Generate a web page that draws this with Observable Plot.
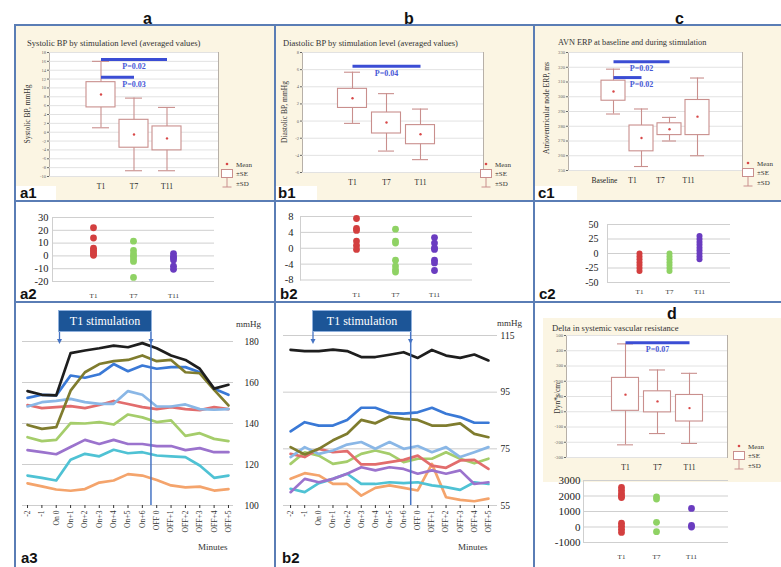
<!DOCTYPE html>
<html><head><meta charset="utf-8">
<script src="https://cdn.jsdelivr.net/npm/d3@7"></script>
<script src="https://cdn.jsdelivr.net/npm/@observablehq/plot@0.6"></script>
<style>
body{margin:0;background:#fff;}
#root{position:relative;width:781px;height:567px;overflow:hidden;background:#fff;font-family:"Liberation Serif",serif;}
.bl{position:absolute;background:#5a7db5;}
.beige{position:absolute;background:#fbf5e3;}
.plab{position:absolute;font-family:"Liberation Sans",Arial,sans-serif;font-weight:bold;line-height:1;color:#111;white-space:nowrap;}
.wbox{position:absolute;background:#fff;}
.ttl{position:absolute;color:#333;white-space:nowrap;line-height:1;}
.ylab{position:absolute;color:#333;white-space:nowrap;line-height:1;transform:translate(-50%,-50%) rotate(-90deg);}
.txt{position:absolute;color:#333;white-space:nowrap;line-height:1;}
.stim{position:absolute;background:#1c5597;border:1px solid #8fb0dc;color:#fff;font-size:12px;display:flex;align-items:center;justify-content:center;box-sizing:border-box;}
</style></head><body><div id="root"></div>
<script>
// ---------- DATA ----------
const cats3 = ["T1", "T7", "T11"];
const erpCats = ["Baseline", "T1", "T7", "T11"];

// a1: systolic BP (mean, ±SE, ±SD)
const sysMean = [8.5, -0.5, -1.4];
const sysSeLo = [5.6, -3.5, -4.1];
const sysSeHi = [11.3, 2.8, 1.3];
const sysSdLo = [1.0, -8.7, -8.7];
const sysSdHi = [16.0, 7.7, 5.6];
const sysTicks = [-10, -8, -6, -4, -2, 0, 2, 4, 6, 8, 10, 12, 14, 16, 18];
const sysPFrom = ["T1", "T1"], sysPTo = ["T11", "T7"], sysPY = [16.4, 12.4];
const sysPText = ["P=0.02", "P=0.03"], sysPAt = ["T7", "T7"];

// b1: diastolic BP
const diaMean = [2.67, -0.16, -1.53];
const diaSeLo = [1.53, -1.45, -2.7];
const diaSeHi = [3.76, 1.0, -0.47];
const diaSdLo = [-0.27, -3.5, -4.5];
const diaSdHi = [5.7, 3.2, 1.4];
const diaTicks = [-6, -4, -2, 0, 2, 4, 6, 8];
const diaPFrom = ["T1"], diaPTo = ["T11"], diaPY = [6.4], diaPText = ["P=0.04"], diaPAt = ["T7"];

// c1: AVN ERP
const erpMean = [303.6, 272, 278, 286.5];
const erpSeLo = [297.3, 263, 274, 274];
const erpSeHi = [310.9, 280.5, 282, 297.8];
const erpSdLo = [288.3, 252.7, 270, 260];
const erpSdHi = [318.7, 291.7, 286, 312.7];
const erpTicks = [250, 260, 270, 280, 290, 300, 310, 320, 330];
const erpPFrom = ["Baseline", "Baseline"], erpPTo = ["T7", "T1"], erpPY = [323.7, 313];
const erpPText = ["P=0.02", "P=0.02"], erpPAt = ["T1", "T1"];

// d: delta SVR
const svrMean = [112, 68, 24];
const svrSeLo = [6, -4, -64];
const svrSeHi = [222, 134, 110];
const svrSdLo = [-217, -143, -208];
const svrSdHi = [445, 274, 252];
const svrTicks = [-300, -200, -100, 0, 100, 200, 300, 400, 500];
const svrPFrom = ["T1"], svrPTo = ["T11"], svrPY = [452], svrPText = ["P=0.07"], svrPAt = ["T7"];

// row 2 individual values
const a2T1 = [22, 14, 6, 4.5, 3, 1.5, 0.5];
const a2T7 = [11.5, 4.3, 1.6, -0.3, -2.4, -4.3, -16.8];
const a2T11 = [1.8, -0.5, -1.5, -3.2, -8, -10.5];
const a2Ticks = [-20, -10, 0, 10, 20, 30];

const b2T1 = [7.5, 5, 4.5, 1.8, 0.7, -0.3];
const b2T7 = [4.8, 1.8, 1.3, -3, -4.5, -5.4, -6];
const b2T11 = [2.7, 1.3, 0.1, -0.3, -3, -3.7, -5.6];
const b2Ticks = [-8, -4, 0, 4, 8];

const c2T1 = [0, -5, -10, -15, -20, -25, -30];
const c2T7 = [0, -5, -10, -15, -20, -25, -30];
const c2T11 = [30, 25, 20, 15, 10, 5, 0, -5, -10];
const c2Ticks = [-50, -25, 0, 25, 50];

const d2T1 = [2550, 2350, 2150, 2000, 1900, 250, 50, -150, -350];
const d2T7 = [1950, 1800, 300, -300];
const d2T11 = [1200, 100, 0];
const d2Ticks = [-1000, 0, 1000, 2000, 3000];

// row 3 time courses
const minuteLabels = ["-2", "-1", "On 0", "On+1", "On+2", "On+3", "On+4", "On+5", "On+6",
  "OFF 0", "OFF+1", "OFF+2", "OFF+3", "OFF+4", "OFF+5"];
const seriesNames = ["Subject 1", "Subject 2", "Subject 3", "Subject 4", "Subject 5", "Subject 6", "Subject 7", "Subject 8", "Subject 9"];
const seriesColors = ["#f4a46c", "#4fc2d4", "#9b73cd", "#a5cd6b", "#e26d6d", "#8ab7e6", "#3a79d6", "#7f7c2e", "#1e1e1e"];

const sysOrange = [110.8, 109.3, 107.8, 107.2, 108, 111.2, 112.2, 115.3, 114.6, 112.4, 109.8, 108.8, 109.2, 107.3, 108];
const sysTeal = [114.6, 113.5, 112.2, 122.3, 125.2, 124, 127.2, 125.5, 126, 124.4, 124, 123.6, 119.5, 113.5, 114.6];
const sysPurple = [127, 126, 125, 128.5, 132, 130, 132, 130, 130, 129, 129, 127, 128, 126, 126];
const sysGreen = [133.3, 131.4, 132, 140.2, 140, 140.7, 139.5, 144.4, 143, 140.7, 141.5, 134, 135.3, 132.5, 131.4];
const sysRed = [149, 147.5, 148, 148.5, 147.5, 149, 151, 149.5, 148, 147, 148, 147, 146.5, 148, 147];
const sysLightBlue = [148.3, 150.4, 151, 152, 150.4, 149.6, 149.6, 155.8, 154, 148.3, 148.3, 149.3, 147, 146.7, 147];
const sysBlue = [152.5, 154, 153.7, 163.4, 162.3, 164, 169, 165.5, 168.3, 166.7, 167.5, 167.5, 165, 157, 154];
const sysOlive = [139.3, 137.4, 138.2, 156, 165, 169, 170.4, 171, 173.2, 170.4, 171, 165, 164.5, 156.4, 148.8];
const sysBlack = [155.8, 154, 153.7, 174.3, 175.6, 176.7, 178, 177.2, 179.2, 176.7, 173.2, 171, 166.7, 157, 158.9];

const diaOrange = [64.4, 66.4, 65.6, 62.6, 62.6, 58.5, 61.2, 62.1, 61.2, 60.3, 69.7, 57.9, 57, 56.5, 57.4];
const diaTeal = [60.9, 59.7, 62.9, 64.4, 66.2, 62.6, 62.6, 63.2, 62.9, 63.2, 62.1, 61.5, 60.5, 63.2, 62.6];
const diaPurple = [59.7, 64.4, 63.2, 64.4, 66.2, 68.5, 67.4, 68.5, 67.9, 66.2, 67.4, 66.2, 67.4, 62.6, 63.2];
const diaGreen = [69.7, 73.8, 72.6, 69.7, 70.5, 73.2, 74.4, 73.2, 70.3, 71.5, 71.5, 73.8, 71.5, 69.9, 71.5];
const diaRed = [73.2, 72.1, 75, 73.8, 74.2, 69.5, 69.5, 70.3, 71.1, 72.6, 69.1, 68.3, 70.9, 71.1, 67.9];
const diaLightBlue = [72.1, 75.6, 73.2, 74.4, 76.5, 77.4, 75, 77.4, 75, 76, 73.8, 75.6, 72.1, 73.8, 75.6];
const diaBlue = [81.2, 84.4, 83.2, 83.2, 85.2, 89.5, 89.5, 87.6, 87.4, 87.9, 89.5, 87.4, 86.2, 84.2, 84.2];
const diaOlive = [75.6, 73, 75, 78, 80.3, 85.2, 84, 86.4, 85.6, 85.2, 83.2, 83.2, 84, 80.3, 79.1];
const diaBlack = [109.9, 109.5, 109.5, 110, 109.5, 107.4, 107.4, 108.2, 109.1, 107.1, 109.9, 107.9, 107.1, 108.3, 106.2];

const sysLineTicks = [100, 120, 140, 160, 180];
const diaLineTicks = [55, 75, 95, 115];
const a3StimOff = 8.6;
const b3StimOff = 8.5;

// ---------- HELPERS ----------
const root = document.getElementById("root");
const SERIF = "Liberation Serif";
const BOX = "#c98f8d";
const plain = d => String(d);

function place(el, left, top) {
  el.style.position = "absolute";
  el.style.left = left + "px";
  el.style.top = top + "px";
  el.style.background = "transparent";
  el.style.overflow = "visible";
  el.style.maxWidth = "none";
  root.appendChild(el);
}
function div(cls, left, top, html, extra) {
  const d = document.createElement("div");
  d.className = cls;
  d.style.left = left + "px";
  d.style.top = top + "px";
  if (extra) Object.assign(d.style, extra);
  d.innerHTML = html;
  root.appendChild(d);
  return d;
}

function boxChart(o) {
  const rows = o.cats.map((c, i) => ({c, mean: o.mean[i], seLo: o.seLo[i], seHi: o.seHi[i], sdLo: o.sdLo[i], sdHi: o.sdHi[i]}));
  const pr = o.pFrom.map((f, i) => ({f, t: o.pTo[i], y: o.pY[i], label: o.pText[i], at: o.pAt[i]}));
  return Plot.plot({
    width: o.w, height: o.h, marginLeft: o.ml, marginRight: o.mr, marginTop: o.mt, marginBottom: o.mb,
    style: {fontFamily: SERIF, background: "transparent"},
    x: {type: "band", domain: o.cats, paddingInner: 0, paddingOuter: o.po, align: o.align},
    y: {domain: o.yDomain},
    marks: [
      Plot.frame({fill: "white", stroke: "#b7b0a8"}),
      Plot.gridY({ticks: o.yTicks, stroke: "#e2e2e2", strokeOpacity: 1}),
      Plot.axisY({ticks: o.yTicks, tickFormat: plain, tickSize: 2, tickPadding: 1.5, fontSize: 4.6, label: null, color: "#666"}),
      Plot.axisX({tickSize: 0, tickPadding: 7, fontSize: 7.5, label: null, color: "#222", dx: o.xdx || 0}),
      Plot.ruleX(rows, {x: "c", y1: "sdLo", y2: "sdHi", stroke: BOX, strokeWidth: 1.1}),
      Plot.tickY(rows, {x: "c", y: "sdLo", stroke: BOX, strokeWidth: 1.1, insetLeft: o.cap, insetRight: o.cap}),
      Plot.tickY(rows, {x: "c", y: "sdHi", stroke: BOX, strokeWidth: 1.1, insetLeft: o.cap, insetRight: o.cap}),
      Plot.barY(rows, {x: "c", y1: "seLo", y2: "seHi", fill: "white", stroke: BOX, strokeWidth: 1.1, insetLeft: o.inset, insetRight: o.inset}),
      Plot.dot(rows, {x: "c", y: "mean", r: 1.2, fill: "#d84848"}),
      Plot.link(pr, {x1: "f", x2: "t", y1: "y", y2: "y", stroke: "#3b4dd4", strokeWidth: 3}),
      Plot.text(pr, {x: "at", y: "y", text: "label", dy: 7, fill: "#4758d6", fontSize: 8, fontWeight: "bold"})
    ]
  });
}

function dotChart(o) {
  const pts = [];
  o.cats.forEach((c, i) => o.vals[i].forEach(v => pts.push({c, v})));
  return Plot.plot({
    width: o.w, height: o.h, marginLeft: o.ml, marginRight: o.mr, marginTop: o.mt, marginBottom: o.mb,
    style: {fontFamily: SERIF, background: "transparent"},
    x: {type: "point", domain: o.cats, padding: o.pad, align: o.align},
    y: {domain: o.yDomain},
    color: {domain: o.cats, range: ["#d33f3f", "#8fd264", "#6a3cc0"]},
    marks: [
      Plot.gridY({ticks: o.yTicks, stroke: "#cfcfcf", strokeOpacity: 1}),
      Plot.frame({anchor: "left", stroke: "#cfcfcf"}),
      Plot.axisY({ticks: o.yTicks, tickFormat: plain, tickSize: 0, tickPadding: o.tp, fontSize: o.fs, label: null, color: "#222"}),
      Plot.axisX({tickSize: 0, tickPadding: o.xtp, fontSize: 7, label: null, color: "#333"}),
      Plot.dot(pts, {x: "c", y: "v", fill: "c", r: o.r})
    ]
  });
}

function lineChart(o) {
  const rows = [];
  o.series.forEach((s, k) => s.forEach((v, i) => rows.push({s: seriesNames[k], i, v})));
  return Plot.plot({
    width: o.w, height: o.h, marginLeft: o.ml, marginRight: o.mr, marginTop: o.mt, marginBottom: o.mb,
    style: {fontFamily: SERIF, background: "transparent"},
    x: {domain: o.xDomain},
    y: {domain: o.yDomain, range: o.yRange},
    color: {type: "ordinal", domain: seriesNames, range: seriesColors},
    marks: [
      Plot.gridY({ticks: o.yTicks, stroke: "#cdcdcd", strokeOpacity: 1}),
      Plot.axisY({anchor: "right", ticks: o.yTicks, tickFormat: plain, tickSize: 0, tickPadding: o.tp, fontSize: 9.5, label: null, color: "#222"}),
      Plot.axisX({ticks: minuteLabels.map((_, i) => i), tickFormat: i => minuteLabels[i], tickRotate: -90,
        tickSize: 3, tickPadding: 2, fontSize: 7.6, label: null, color: "#333"}),
      Plot.line(rows, {x: "i", y: "v", z: "s", stroke: "s", strokeWidth: 2.7}),
      Plot.ruleX([o.stimOff], {stroke: "#4674c4", strokeWidth: 1.5})
    ]
  });
}

function legend(left, top) {
  const s = `<svg width="50" height="34" style="position:absolute;left:${left}px;top:${top}px;overflow:visible" font-family="${SERIF}" font-size="7" fill="#333">
  <circle cx="6" cy="4" r="1.3" fill="#d84848"/>
  <rect x="0.5" y="9.5" width="11" height="8" fill="white" stroke="${BOX}"/>
  <line x1="6" y1="17.5" x2="6" y2="27" stroke="${BOX}"/>
  <line x1="1.5" y1="27" x2="10.5" y2="27" stroke="${BOX}"/>
  <text x="15" y="6.5">Mean</text><text x="15" y="15.5">±SE</text><text x="15" y="25.5">±SD</text></svg>`;
  root.insertAdjacentHTML("beforeend", s);
}

function stim(left, width, arrowLeftX, arrowRightX) {
  div("stim", left, 310, "T1 stimulation", {width: width + "px", height: "22px"});
  const s = `<svg width="781" height="567" style="position:absolute;left:0;top:0;pointer-events:none;overflow:visible">
  <line x1="${arrowLeftX}" y1="332" x2="${arrowLeftX}" y2="340" stroke="#4674c4" stroke-width="1.3"/>
  <path d="M${arrowLeftX - 2.5},339 L${arrowLeftX + 2.5},339 L${arrowLeftX},344 Z" fill="#4674c4"/>
  <path d="M${arrowRightX - 2.5},339 L${arrowRightX + 2.5},339 L${arrowRightX},344 Z" fill="#4674c4"/>
  </svg>`;
  root.insertAdjacentHTML("beforeend", s);
}

// ---------- BACKGROUNDS ----------
div("beige", 16, 26, "", {width: "258px", height: "174px"});
div("beige", 276, 26, "", {width: "257px", height: "174px"});
div("beige", 535, 26, "", {width: "246px", height: "174px"});
div("beige", 543, 318, "", {width: "238px", height: "164px"});

// ---------- CHARTS ----------
place(boxChart({cats: cats3, mean: sysMean, seLo: sysSeLo, seHi: sysSeHi, sdLo: sysSdLo, sdHi: sysSdHi,
  pFrom: sysPFrom, pTo: sysPTo, pY: sysPY, pText: sysPText, pAt: sysPAt, yDomain: [-10, 18], yTicks: sysTicks,
  w: 252, h: 170, ml: 31, mr: 52, mt: 24, mb: 22, po: 1.06, align: 0.5, inset: 2, cap: 8}), 18, 28);

place(boxChart({cats: cats3, mean: diaMean, seLo: diaSeLo, seHi: diaSeHi, sdLo: diaSdLo, sdHi: diaSdHi,
  pFrom: diaPFrom, pTo: diaPTo, pY: diaPY, pText: diaPText, pAt: diaPAt, yDomain: [-6, 8], yTicks: diaTicks,
  w: 256, h: 170, ml: 25, mr: 50, mt: 24, mb: 26, po: 1.12, align: 0.42, inset: 2.5, cap: 9}), 277, 28);

place(boxChart({cats: erpCats, mean: erpMean, seLo: erpSeLo, seHi: erpSeHi, sdLo: erpSdLo, sdHi: erpSdHi,
  pFrom: erpPFrom, pTo: erpPTo, pY: erpPY, pText: erpPText, pAt: erpPAt, yDomain: [250, 330], yTicks: erpTicks,
  w: 245, h: 170, ml: 32, mr: 39, mt: 24, mb: 28, po: 1.1, align: 0.5, inset: 2, cap: 7, xdx: -9}), 536, 28);

place(boxChart({cats: cats3, mean: svrMean, seLo: svrSeLo, seHi: svrSeHi, sdLo: svrSdLo, sdHi: svrSdHi,
  pFrom: svrPFrom, pTo: svrPTo, pY: svrPY, pText: svrPText, pAt: svrPAt, yDomain: [-300, 500], yTicks: svrTicks,
  w: 245, h: 160, ml: 30, mr: 54, mt: 15, mb: 23, po: 1.0, align: 0.66, inset: 2.5, cap: 8}), 536, 320);

place(dotChart({cats: cats3, vals: [a2T1, a2T7, a2T11], yDomain: [-20, 30], yTicks: a2Ticks,
  w: 255, h: 98, ml: 34, mr: 59, mt: 14, mb: 20, pad: 1.0, align: 0.5, tp: 4, fs: 10.5, xtp: 12, r: 3.4}), 18, 203);

place(dotChart({cats: cats3, vals: [b2T1, b2T7, b2T11], yDomain: [-8, 8], yTicks: b2Ticks,
  w: 256, h: 98, ml: 23, mr: 61, mt: 13, mb: 21.5, pad: 1.2, align: 0.6, tp: 7, fs: 10.5, xtp: 12, r: 3.4}), 277, 203);

place(dotChart({cats: cats3, vals: [c2T1, c2T7, c2T11], yDomain: [-50, 50], yTicks: c2Ticks,
  w: 245, h: 98, ml: 71, mr: 51, mt: 21, mb: 19, pad: 1.0, align: 0.5, tp: 9, fs: 10, xtp: 7, r: 3}), 536, 203);

place(dotChart({cats: cats3, vals: [d2T1, d2T7, d2T11], yDomain: [-1000, 3000], yTicks: d2Ticks,
  w: 245, h: 97, ml: 47, mr: 53, mt: 10, mb: 25, pad: 1.04, align: 0.5, tp: 3, fs: 11, xtp: 12, r: 3.4}), 536, 470);

place(lineChart({series: [sysOrange, sysTeal, sysPurple, sysGreen, sysRed, sysLightBlue, sysBlue, sysOlive, sysBlack],
  xDomain: [-0.35, 14.35], yDomain: [100, 180], yRange: [199, 35], yTicks: sysLineTicks, stimOff: a3StimOff,
  w: 256, h: 250, ml: 5, mr: 40, mt: 26, mb: 51, tp: 11}), 17, 306);

place(lineChart({series: [diaOrange, diaTeal, diaPurple, diaGreen, diaRed, diaLightBlue, diaBlue, diaOlive, diaBlack],
  xDomain: [-0.5, 14.64], yDomain: [55, 115], yRange: [199, 29], yTicks: diaLineTicks, stimOff: b3StimOff,
  w: 256, h: 250, ml: 6, mr: 36, mt: 26, mb: 51, tp: 3}), 277, 306);

// ---------- ANNOTATIONS ----------
stim(58, 94, 59.5, 151);
stim(312, 100, 313, 410.5);

legend(221, 160);
legend(480, 160);
legend(742, 159);
legend(733, 442);

div("ttl", 27, 39, "Systolic BP by stimulation level (averaged values)", {fontSize: "8.6px"});
div("ttl", 283, 39, "Diastolic BP by stimulation level (averaged values)", {fontSize: "8.5px"});
div("ttl", 558, 39, "AVN ERP at baseline and during stimulation", {fontSize: "8.3px"});
div("ttl", 552, 324, "Delta in systemic vascular resistance", {fontSize: "8.6px"});

div("ylab", 28, 114, "Systolic BP, mmHg", {fontSize: "7.5px"});
div("ylab", 285, 112, "Diastolic BP, mmHg", {fontSize: "7.5px"});
div("ylab", 547, 108, "Atrioventricular node ERP, ms", {fontSize: "7.5px"});
div("ylab", 557, 397, "Dyn*s/cm<sup style='font-size:5px'>5</sup>", {fontSize: "7.5px"});

div("txt", 236, 320, "mmHg", {fontSize: "9px"});
div("txt", 497, 319, "mmHg", {fontSize: "9px"});
div("txt", 198, 543, "Minutes", {fontSize: "9px"});
div("txt", 458, 543, "Minutes", {fontSize: "9px"});

// panel letters
div("plab", 143, 11, "a", {fontSize: "16px"});
div("plab", 404, 11, "b", {fontSize: "16px"});
div("plab", 675, 11, "c", {fontSize: "16px"});
div("plab", 667, 306, "d", {fontSize: "16px"});

div("wbox", 14, 186, "", {width: "42px", height: "14px"});
div("wbox", 274, 186, "", {width: "43px", height: "14px"});
div("wbox", 534, 186, "", {width: "43px", height: "14px"});
div("plab", 20, 185, "a1", {fontSize: "15px"});
div("plab", 278, 185, "b1", {fontSize: "15px"});
div("plab", 538, 185, "c1", {fontSize: "15px"});
div("plab", 20, 286, "a2", {fontSize: "15px"});
div("plab", 280, 286, "b2", {fontSize: "15px"});
div("plab", 539, 286, "c2", {fontSize: "15px"});
div("plab", 21, 550, "a3", {fontSize: "15px"});
div("plab", 282, 550, "b2", {fontSize: "15px"});

// ---------- BORDERS ----------
div("bl", 14, 24, "", {width: "767px", height: "2px"});
div("bl", 14, 200, "", {width: "767px", height: "2px"});
div("bl", 14, 301, "", {width: "767px", height: "2px"});
div("bl", 14, 24, "", {width: "2px", height: "543px"});
div("bl", 274, 24, "", {width: "2px", height: "543px"});
div("bl", 533, 24, "", {width: "2px", height: "543px"});
</script></body></html>
